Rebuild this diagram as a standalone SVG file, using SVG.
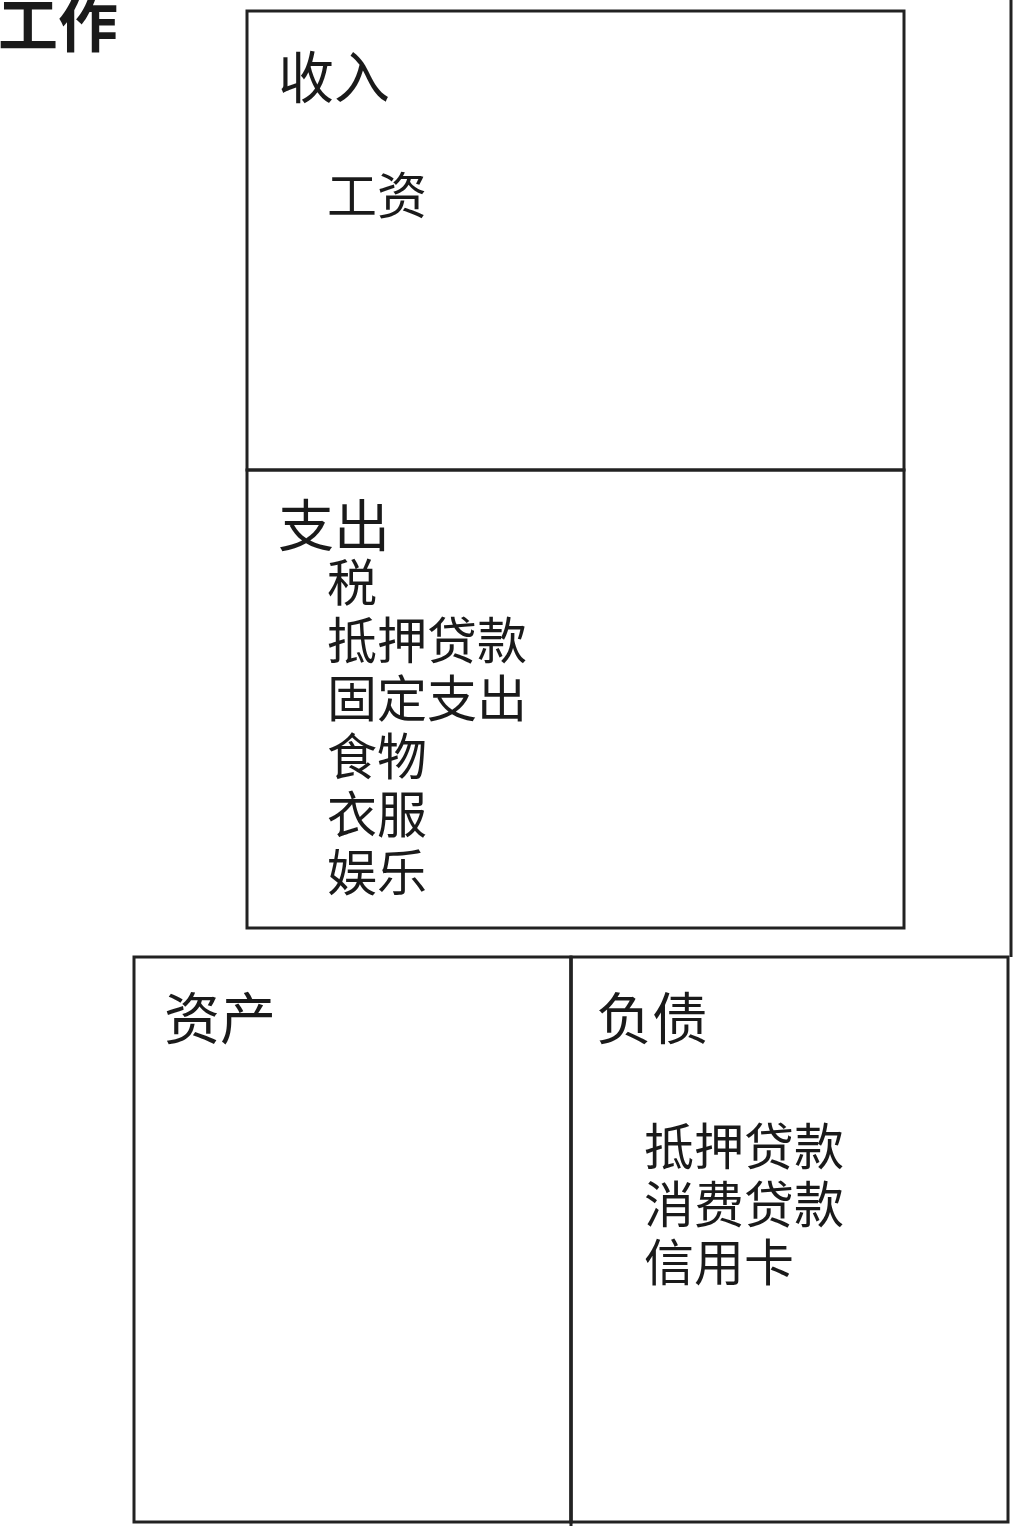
<svg xmlns="http://www.w3.org/2000/svg" width="1014" height="1526" viewBox="0 0 1014 1526">
<style>
.box{fill:none;stroke:#222;stroke-width:3}
.ln{stroke:#222;stroke-width:3;fill:none}
.t{font-family:"Noto Sans CJK SC","Noto Sans",sans-serif;fill:#1a1a1a}
.h{font-size:56px}
.i{font-size:50px}
.b{font-size:60px;font-weight:bold}
</style>
<rect width="1014" height="1526" fill="#fff"/>
<g id="title"><text class="t b" x="-2" y="47">工作</text></g>
<g id="connectors">
<line class="ln" x1="1011" y1="0" x2="1011" y2="957" stroke="#555"/>
<line class="ln" x1="571" y1="957" x2="571" y2="1526"/>
</g>
<g id="income">
<rect class="box" x="247" y="11" width="657" height="459"/>
<text class="t h" x="278" y="98">收入</text>
<text class="t i" x="327" y="214">工资</text>
</g>
<g id="expense">
<rect class="box" x="247" y="470" width="657" height="458"/>
<text class="t h" x="278" y="546">支出</text>
<text class="t i" x="327" y="601">税</text>
<text class="t i" x="327" y="659">抵押贷款</text>
<text class="t i" x="327" y="717">固定支出</text>
<text class="t i" x="327" y="775">食物</text>
<text class="t i" x="327" y="833">衣服</text>
<text class="t i" x="327" y="891">娱乐</text>
</g>
<g id="assets">
<rect class="box" x="134" y="957" width="437" height="565"/>
<text class="t h" x="164" y="1039">资产</text>
</g>
<g id="liabilities">
<rect class="box" x="571" y="957" width="437" height="565"/>
<text class="t h" x="596" y="1039">负债</text>
<text class="t i" x="644" y="1165">抵押贷款</text>
<text class="t i" x="644" y="1223">消费贷款</text>
<text class="t i" x="644" y="1281">信用卡</text>
</g>
</svg>
